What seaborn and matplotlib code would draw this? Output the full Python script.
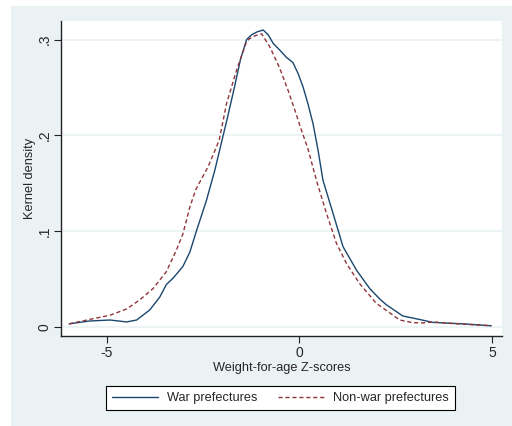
import matplotlib
matplotlib.use("Agg")
import matplotlib.pyplot as plt
import pandas as pd
import seaborn as sns
from matplotlib.patches import Rectangle

# Kernel density curves
war_x = [-5.97, -5.43, -4.91, -4.48, -4.22, -3.88, -3.62, -3.45, -3.27, -3.02,
         -2.84, -2.67, -2.41, -2.19, -2.00, -1.88, -1.68, -1.53, -1.37, -1.24,
         -1.10, -0.94, -0.81, -0.68, -0.51, -0.34, -0.17, -0.04, 0.09, 0.22,
         0.35, 0.48, 0.61, 0.87, 1.13, 1.48, 1.82, 2.08, 2.25, 2.68,
         3.12, 3.46, 4.24, 4.97]
war_y = [0.003, 0.006, 0.007, 0.005, 0.007, 0.0175, 0.031, 0.044, 0.051, 0.063,
         0.078, 0.100, 0.132, 0.164, 0.196, 0.216, 0.251, 0.279, 0.300, 0.305,
         0.308, 0.310, 0.305, 0.296, 0.289, 0.2815, 0.276, 0.265, 0.251, 0.233,
         0.2125, 0.185, 0.153, 0.1185, 0.0836, 0.059, 0.040, 0.029, 0.023, 0.0112,
         0.0075, 0.0045, 0.003, 0.001]

nonwar_x = [-5.97, -5.43, -4.91, -4.48, -4.14, -3.79, -3.45, -3.19, -3.02, -2.84,
            -2.69, -2.37, -2.15, -2.08, -1.89, -1.63, -1.37, -1.29, -1.15, -0.98,
            -0.77, -0.51, -0.295, -0.12, 0.05, 0.22, 0.44, 0.70, 0.96, 1.22,
            1.56, 1.99, 2.42, 2.60, 2.94, 3.20, 3.46, 4.07, 4.97]
nonwar_y = [0.003, 0.0077, 0.012, 0.0185, 0.028, 0.040, 0.0575, 0.080, 0.097, 0.125,
            0.143, 0.167, 0.188, 0.195, 0.233, 0.268, 0.298, 0.301, 0.304, 0.306,
            0.2926, 0.270, 0.247, 0.2264, 0.2055, 0.186, 0.153, 0.1185, 0.087, 0.066,
            0.045, 0.0245, 0.0122, 0.007, 0.0042, 0.004, 0.005, 0.003, 0.001]

series_labels = ["War prefectures", "Non-war prefectures"]
y_ticks = [0, 0.1, 0.2, 0.3]
y_ticklabels = ["0", ".1", ".2", ".3"]
x_ticks = [-5, 0, 5]

sns.set_theme(style="white")
plt.rcParams["font.family"] = ["Liberation Sans", "DejaVu Sans"]

panel = "#eaf2f3"
fig = plt.figure(figsize=(5.12, 4.26), dpi=100, facecolor="white")
fig.patches.append(Rectangle((11 / 512, 0), 1 - 11 / 512, 420 / 426,
                             transform=fig.transFigure, facecolor=panel,
                             edgecolor="none", zorder=-10))
ax = fig.add_axes([61 / 512, 1 - 336 / 426, 441 / 512, 315 / 426])
ax.set_zorder(1)
ax.set_facecolor("white")

df_war = pd.DataFrame({"x": war_x, "y": war_y})
df_non = pd.DataFrame({"x": nonwar_x, "y": nonwar_y})
sns.lineplot(data=df_war, x="x", y="y", ax=ax, color="#1a476f", lw=1.0,
             label=series_labels[0], sort=False)
sns.lineplot(data=df_non, x="x", y="y", ax=ax, color="#90353b", lw=1.0,
             label=series_labels[1], sort=False)
ax.lines[1].set_dashes([3, 2])

ax.set_xlim(-6.18, 5.25)
ax.set_ylim(-0.0097, 0.3194)
ax.set_yticks(y_ticks)
ax.set_yticklabels(y_ticklabels, rotation=90, va="center")
ax.set_xticks(x_ticks)
ax.set_xticklabels(["-5", "0", "5"])
ax.grid(axis="y", color=panel, lw=1.2)
ax.set_axisbelow(True)
for s in ["top", "right"]:
    ax.spines[s].set_visible(False)
for s in ["left", "bottom"]:
    ax.spines[s].set_color("#222222")
    ax.spines[s].set_linewidth(1.0)
ax.tick_params(axis="both", which="major", direction="out", length=5,
               width=0.8, color="#222222", labelsize=10, pad=2,
               bottom=True, left=True)
ax.set_xlabel("Weight-for-age Z-scores", fontsize=9.2, labelpad=2)
ax.set_ylabel("Kernel density", fontsize=9.2, labelpad=1)

handles, labels = ax.get_legend_handles_labels()
ax.get_legend().remove()
leg = fig.legend(handles, labels, loc="center", bbox_to_anchor=(280.5 / 512, 1 - 398 / 426),
                 ncol=2, frameon=True, fancybox=False, edgecolor="black",
                 facecolor="white", framealpha=1, fontsize=9.2, handlelength=3.6,
                 handletextpad=0.7, columnspacing=1.6, borderpad=0.5)
leg.get_frame().set_linewidth(0.8)

fig.savefig("out.png", dpi=100, facecolor="white")
